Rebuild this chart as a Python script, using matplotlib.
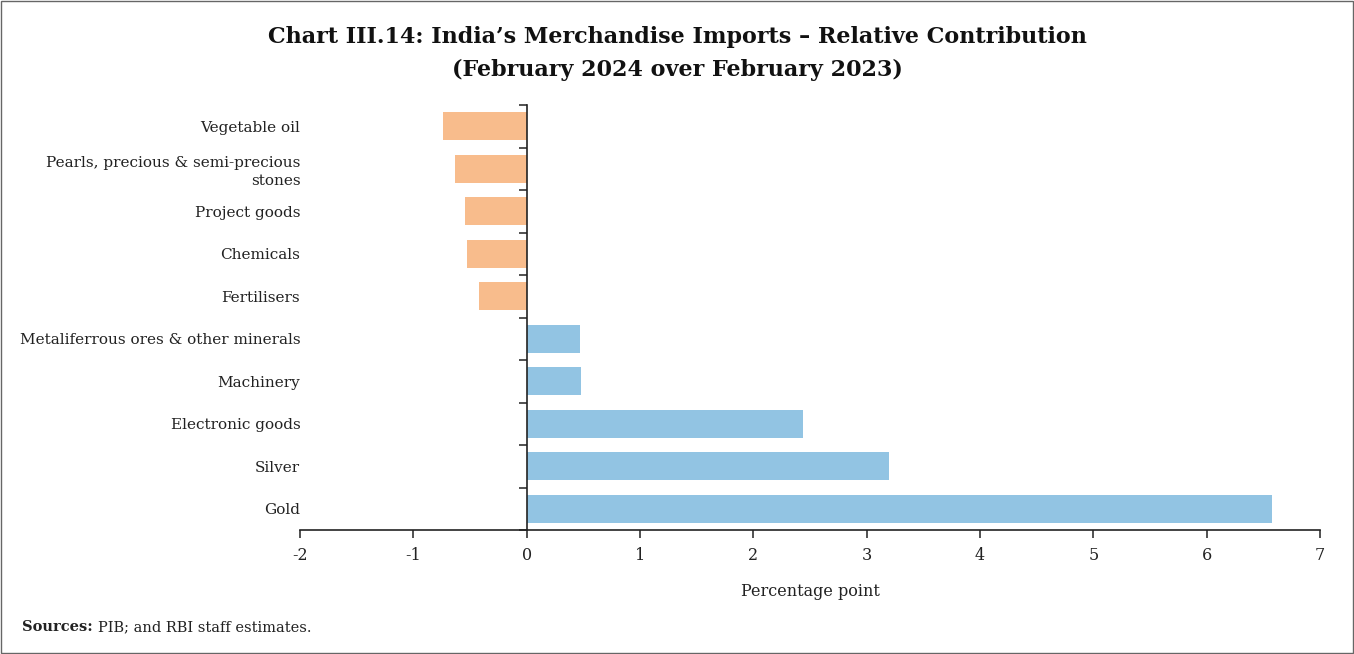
import matplotlib
matplotlib.use("Agg")
import matplotlib.pyplot as plt
from matplotlib.patches import Rectangle
import numpy as np

categories = ["Vegetable oil", "Pearls, precious & semi-precious\nstones", "Project goods",
              "Chemicals", "Fertilisers", "Metaliferrous ores & other minerals",
              "Machinery", "Electronic goods", "Silver", "Gold"]
values = [-0.74, -0.63, -0.54, -0.53, -0.42, 0.47, 0.48, 2.44, 3.20, 6.58]
xticks = [-2, -1, 0, 1, 2, 3, 4, 5, 6, 7]

ORANGE = "#F8BC8C"
BLUE = "#92C4E3"
plt.rcParams['font.family'] = ['DejaVu Serif']

fig = plt.figure(figsize=(13.54, 6.54), dpi=100)
ax = fig.add_axes([300/1354, 124/654, 1020/1354, 425/654])

y = np.arange(len(categories))
colors = [ORANGE if v < 0 else BLUE for v in values]
ax.barh(y, values, height=0.65, color=colors, zorder=2)

ax.set_xlim(-2, 7)
ax.set_ylim(len(categories) - 0.5, -0.5)
ax.set_xticks(xticks)
ax.set_xticklabels([str(t) for t in xticks], fontsize=11.5, color="#222222")
ax.tick_params(axis='x', direction='out', length=6, width=1.2, color="#333333", pad=6)

ax.spines['top'].set_visible(False)
ax.spines['right'].set_visible(False)
ax.spines['left'].set_position(('data', 0))
for s in ['left', 'bottom']:
    ax.spines[s].set_linewidth(1.2)
    ax.spines[s].set_color("#222222")

ax.set_yticks(y)
ax.set_yticklabels(categories, fontsize=11, color="#222222", linespacing=1.35)
ax.set_yticks(np.arange(len(categories) + 1) - 0.5, minor=True)
ax.tick_params(axis='y', which='major', length=0, pad=163)
ax.tick_params(axis='y', which='minor', direction='out', length=6, width=1.2, color="#333333")

ax.set_xlabel("Percentage point", fontsize=11.5, color="#222222", labelpad=14)

fig.text(0.5, 1 - 37/654, "Chart III.14: India\u2019s Merchandise Imports \u2013 Relative Contribution",
         ha='center', va='center', fontsize=16, fontweight='bold', color="#111111")
fig.text(0.5, 1 - 70/654, "(February 2024 over February 2023)",
         ha='center', va='center', fontsize=16, fontweight='bold', color="#111111")

t1 = fig.text(22/1354, 1 - 627/654, "Sources:", ha='left', va='center', fontsize=10.5,
              fontweight='bold', color="#222222")
fig.canvas.draw()
bb = t1.get_window_extent(renderer=fig.canvas.get_renderer())
fig.text((bb.x1 + 5)/1354, 1 - 627/654, "PIB; and RBI staff estimates.", ha='left', va='center',
         fontsize=10.5, color="#222222")

fig.patches.append(Rectangle((0.0005, 0.001), 0.999, 0.998, transform=fig.transFigure,
                             fill=False, edgecolor="#666666", linewidth=1))

fig.savefig("out.png", dpi=100)
